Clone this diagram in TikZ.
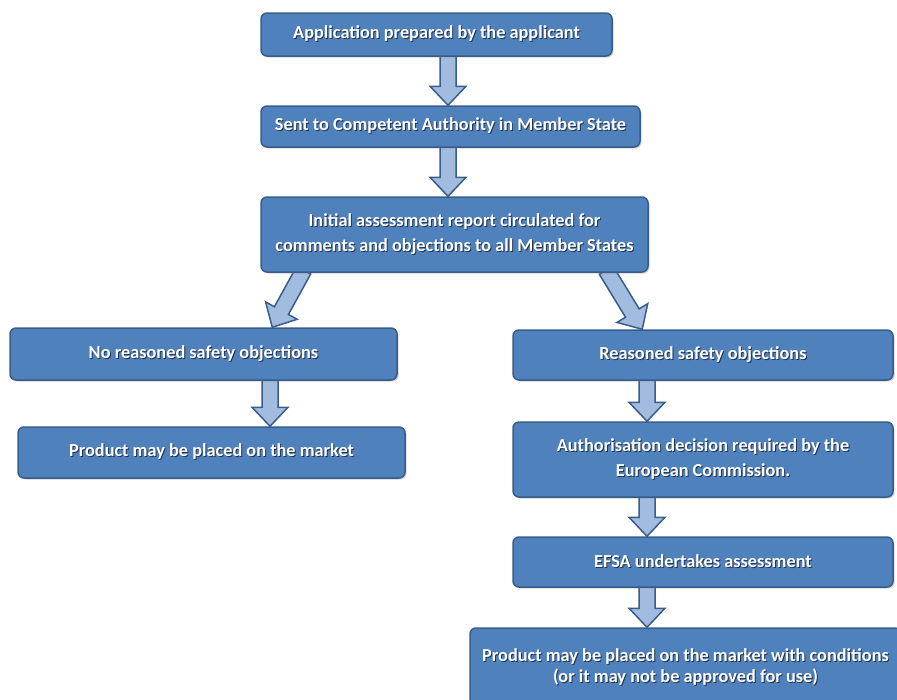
\documentclass[tikz,border=0pt]{standalone}
\usepackage{fontspec}
\setmainfont{Carlito}
\usetikzlibrary{calc,shadows,backgrounds}
\definecolor{boxblue}{HTML}{4F81BD}
\definecolor{boxedge}{HTML}{385D8A}
\definecolor{arrowblue}{HTML}{A2BCE0}
\definecolor{txtshade}{HTML}{23344F}
% white label with a small dark shadow
\newcommand\ts[1]{\leavevmode\rlap{\kern1pt\raisebox{-1pt}{\color{txtshade}#1}}#1}
% block arrow from #1 to #2
\newcommand\blockarrow[2]{%
  \coordinate (bs) at ($(#1)!-3pt!(#2)$);
  \coordinate (be) at (#2);
  \coordinate (bm) at ($(be)!19pt!(bs)$);
  \draw[barrow] ($(bs)!8pt!90:(be)$) -- ($(bm)!8pt!90:(be)$) -- ($(bm)!18pt!90:(be)$) -- (be)
    -- ($(bm)!18pt!-90:(be)$) -- ($(bm)!8pt!-90:(be)$) -- ($(bs)!8pt!-90:(be)$) -- cycle;}
\tikzset{
  box/.style={draw=boxedge,line width=1.5pt,fill=boxblue,rounded corners=6pt,
    text=white,font=\bfseries\fontsize{18.3}{21}\selectfont,align=center,inner sep=0pt,
    drop shadow={opacity=0.35,shadow xshift=1.5pt,shadow yshift=-1.5pt}},
  widebox/.style={box,font=\bfseries\fontsize{18.3}{25}\selectfont},
  barrow/.style={draw=boxedge,line width=1.5pt,fill=arrowblue,line join=miter}
}
\begin{document}
\begin{tikzpicture}[x=1pt,y=-1pt]
\useasboundingbox (0,0) rectangle (897,699);
\clip (0,0) rectangle (897,699);
\node[box,minimum width=351pt,minimum height=43pt] (app) at (436.5,34.5) {\ts{Application prepared by the applicant}};
\node[box,minimum width=379pt,minimum height=41pt] (sent) at (450.5,126.5) {\ts{Sent to Competent Authority in Member State}};
\node[widebox,minimum width=387pt,minimum height=75pt] (init) at (454.5,234.5) {\ts{Initial assessment report circulated for}\\\ts{comments and objections to all Member States}};
\node[box,minimum width=387pt,minimum height=52pt] (nores) at (203.5,354) {\ts{No reasoned safety objections}};
\node[box,minimum width=387pt,minimum height=51pt] (prod) at (211.5,452.5) {\ts{Product may be placed on the market}};
\node[box,minimum width=380pt,minimum height=50pt] (res) at (703,355) {\ts{Reasoned safety objections}};
\node[widebox,minimum width=380pt,minimum height=75pt] (auth) at (703,459.5) {\ts{Authorisation decision required by the}\\\ts{European Commission.}};
\node[box,minimum width=380pt,minimum height=50pt] (efsa) at (703,562) {\ts{EFSA undertakes assessment}};
\node[box,minimum width=431pt,minimum height=78pt] (final) at (685.5,667) {\ts{Product may be placed on the market with conditions}\\\ts{(or it may not be approved for use)}};
\coordinate (cl) at (270,0);
\coordinate (cm) at (448,0);
\coordinate (cr) at (647,0);
\coordinate (ls) at ([xshift=42pt]init.south west);
\coordinate (le) at ([xshift=263pt]nores.north west);
\coordinate (rs) at ([xshift=-41pt]init.south east);
\coordinate (re) at ([xshift=130pt]res.north west);
\begin{scope}[on background layer]
\blockarrow{app.south -| cm}{sent.north -| cm}
\blockarrow{sent.south -| cm}{init.north -| cm}
\blockarrow{ls}{le}
\blockarrow{rs}{re}
\blockarrow{nores.south -| cl}{prod.north -| cl}
\blockarrow{res.south -| cr}{auth.north -| cr}
\blockarrow{auth.south -| cr}{efsa.north -| cr}
\blockarrow{efsa.south -| cr}{final.north -| cr}
\end{scope}
\end{tikzpicture}
\end{document}
